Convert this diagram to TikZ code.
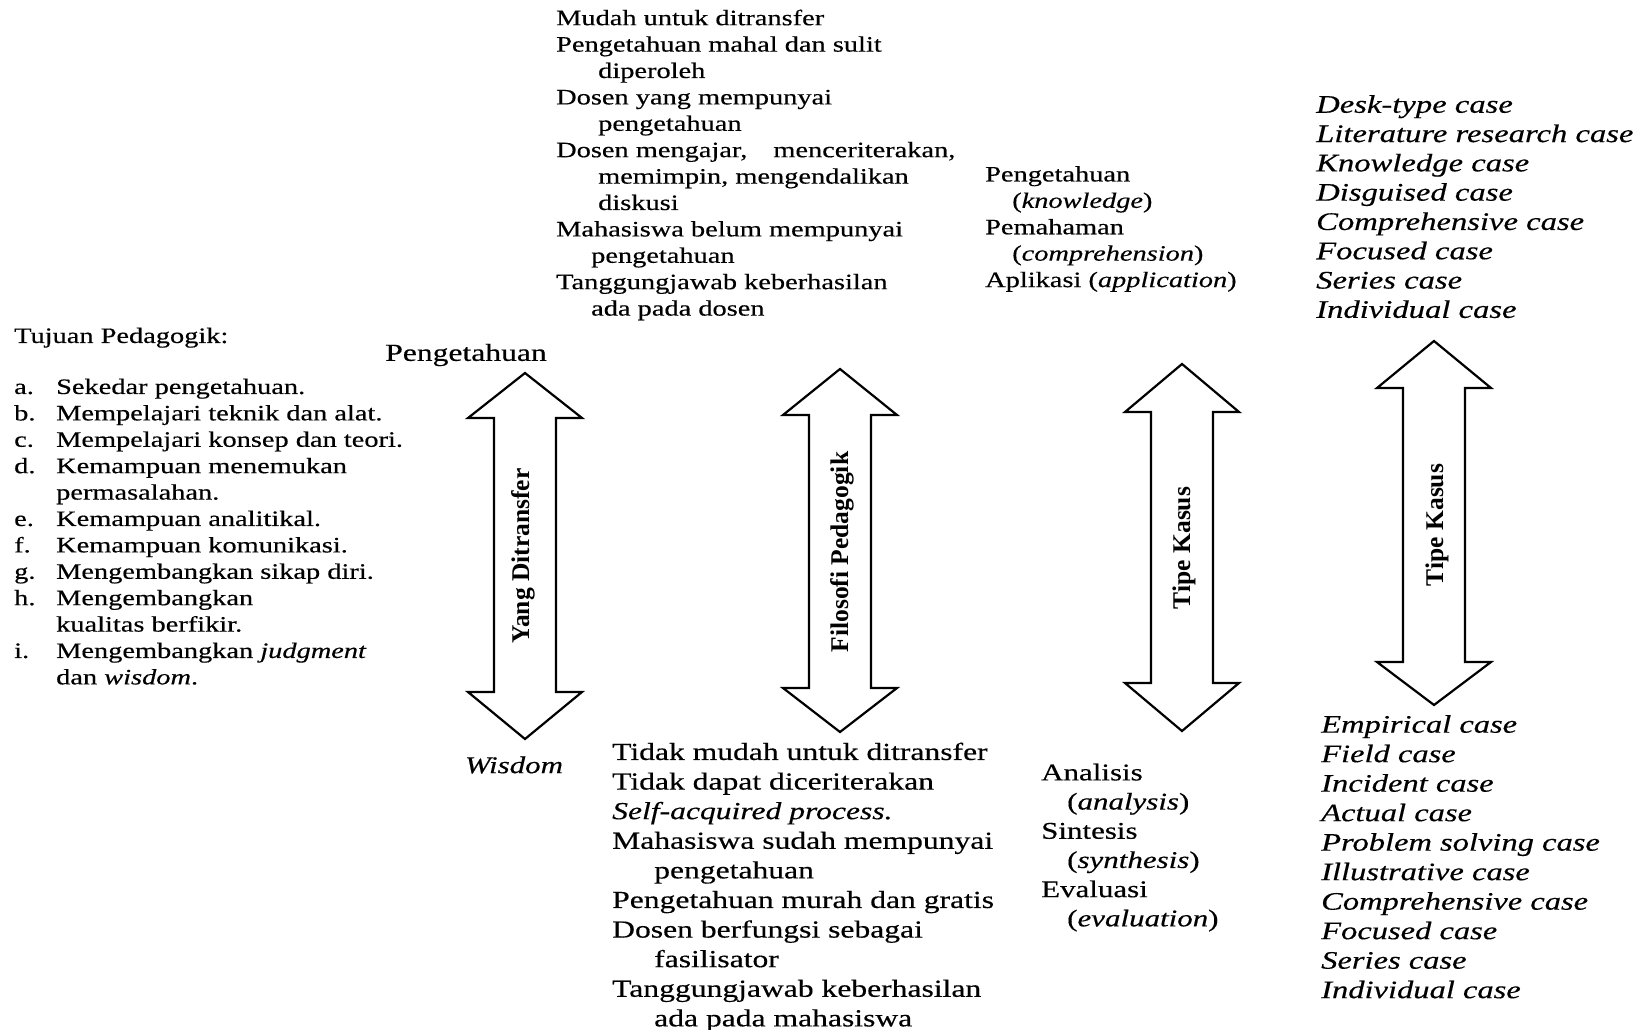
\documentclass[tikz,border=0pt]{standalone}
\usepackage{fontspec}
\setmainfont{Liberation Serif}[FakeStretch=1.29,FakeBold=0.4]
\newfontfamily\lblfont{Liberation Serif}
\newcommand\dblarr[5]{%
  \path[arrowline] (#1,#2) -- ({#1+57},#3) -- ({#1+31},#3) -- ({#1+31},#4) -- ({#1+57},#4) -- (#1,#5)
    -- ({#1-57},#4) -- ({#1-31},#4) -- ({#1-31},#3) -- ({#1-57},#3) -- cycle;}
\newcommand\ind[1]{\hspace*{#1pt}}
\begin{document}
\begin{tikzpicture}[x=1pt,y=-1pt,
  txt/.style={inner sep=0pt, anchor=north west, align=left},
  small/.style={font=\fontsize{22}{26.4}\selectfont},
  big/.style={font=\fontsize{24.5}{29.6}\selectfont},
  itl/.style={font=\fontsize{25.3}{29.3}\selectfont\itshape},
  lbl/.style={font=\lblfont\bfseries\fontsize{25.5}{30}\selectfont, rotate=90, inner sep=0pt},
  arrowline/.style={draw=black, line width=2.2pt, line join=miter}]
\useasboundingbox[fill=white] (0,0) rectangle (1652,1030);

% left block
\node[txt, small] (head) at (14,327.5) {Tujuan Pedagogik:};
\node[txt, small] (goals) at (14,378.5) {%
\makebox[42pt][l]{a.}Sekedar pengetahuan.\\
\makebox[42pt][l]{b.}Mempelajari teknik dan alat.\\
\makebox[42pt][l]{c.}Mempelajari konsep dan teori.\\
\makebox[42pt][l]{d.}Kemampuan menemukan\\
\ind{42}permasalahan.\\
\makebox[42pt][l]{e.}Kemampuan analitikal.\\
\makebox[42pt][l]{f.}Kemampuan komunikasi.\\
\makebox[42pt][l]{g.}Mengembangkan sikap diri.\\
\makebox[42pt][l]{h.}Mengembangkan\\
\ind{42}kualitas berfikir.\\
\makebox[42pt][l]{i.}Mengembangkan \textit{judgment}\\
\ind{42}dan \textit{wisdom}.};

% top middle block
\node[txt, small] (topblk) at (556,9.5) {%
Mudah untuk ditransfer\\
Pengetahuan mahal dan sulit\\
\ind{42}diperoleh\\
Dosen yang mempunyai\\
\ind{42}pengetahuan\\
Dosen mengajar,\hspace{26pt}menceriterakan,\\
\ind{42}memimpin, mengendalikan\\
\ind{42}diskusi\\
Mahasiswa belum mempunyai\\
\ind{35}pengetahuan\\
Tanggungjawab keberhasilan\\
\ind{35}ada pada dosen};

\node[txt, small] (bloom1) at (985,166) {%
Pengetahuan\\
\ind{27}(\textit{knowledge})\\
Pemahaman\\
\ind{27}(\textit{comprehension})\\
Aplikasi (\textit{application})};

\node[txt, itl] (cases1) at (1316,95) {%
Desk-type case\\
Literature research case\\
Knowledge case\\
Disguised case\\
Comprehensive case\\
Focused case\\
Series case\\
Individual case};

% arrows
\dblarr{525}{373}{418}{692}{739}
\dblarr{840}{369}{415}{688}{732}
\dblarr{1182}{364}{412}{683}{731}
\dblarr{1434}{341}{388}{662}{705}
\node[lbl] (l1) at (523,556) {Yang Ditransfer};
\node[lbl] (l2) at (842,552) {Filosofi Pedagogik};
\node[lbl] (l3) at (1184,548) {Tipe Kasus};
\node[lbl] (l4) at (1437,525) {Tipe Kasus};

\node[big, inner sep=0pt] (peng) at (466,355) {Pengetahuan};
\node[font=\fontsize{24}{29}\selectfont\itshape, inner sep=0pt] (wis) at (514,765) {Wisdom};

% bottom blocks
\node[txt, big] (botblk) at (612,742.5) {%
Tidak mudah untuk ditransfer\\
Tidak dapat diceriterakan\\
\textit{Self-acquired process.}\\
Mahasiswa sudah mempunyai\\
\ind{42}pengetahuan\\
Pengetahuan murah dan gratis\\
Dosen berfungsi sebagai\\
\ind{42}fasilisator\\
Tanggungjawab keberhasilan\\
\ind{42}ada pada mahasiswa};

\node[txt, font=\fontsize{24}{29.2}\selectfont] (bloom2) at (1041,763.5) {%
Analisis\\
\ind{26}(\textit{analysis})\\
Sintesis\\
\ind{26}(\textit{synthesis})\\
Evaluasi\\
\ind{26}(\textit{evaluation})};

\node[txt, font=\fontsize{25.2}{29.5}\selectfont\itshape] (cases2) at (1321,715) {%
Empirical case\\
Field case\\
Incident case\\
Actual case\\
Problem solving case\\
Illustrative case\\
Comprehensive case\\
Focused case\\
Series case\\
Individual case};
\end{tikzpicture}
\end{document}
